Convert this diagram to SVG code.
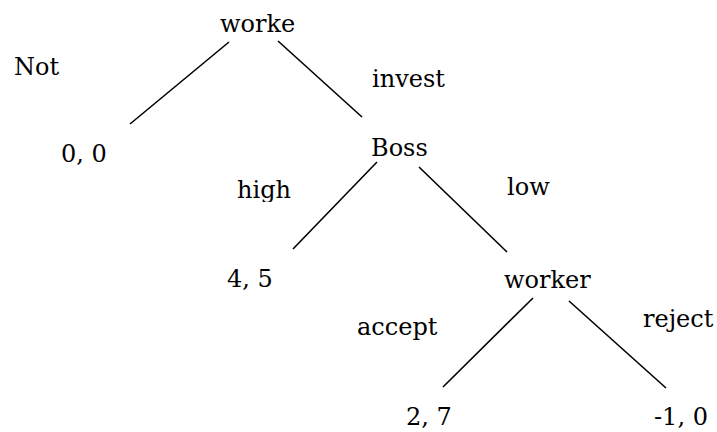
<svg xmlns="http://www.w3.org/2000/svg" width="717" height="432" viewBox="0 0 717 432">
<style>
.c line{stroke:#000;stroke-width:1.6}
.t{font-family:"DejaVu Serif",serif;font-size:24px;fill:#000}
</style>
<defs>
<clipPath id="cutHigh"><rect x="200" y="150" width="120" height="52"/></clipPath>
</defs>
<rect width="717" height="432" fill="#fff"/>
<g class="c" id="connectors">
<line x1="229" y1="42" x2="130" y2="124"/>
<line x1="278" y1="41" x2="362" y2="117"/>
<line x1="377" y1="162" x2="293" y2="249"/>
<line x1="419" y1="167" x2="507" y2="252"/>
<line x1="533" y1="298" x2="443" y2="387"/>
<line x1="569" y1="301" x2="666" y2="388"/>
</g>
<g class="t">
<g id="n-root"><text x="220" y="32">worke</text></g>
<g id="l-not"><text x="14" y="75">Not</text></g>
<g id="l-invest"><text x="372" y="87">invest</text></g>
<g id="n-00"><text x="61" y="162">0, 0</text></g>
<g id="n-boss"><text x="371" y="156">Boss</text></g>
<g id="l-high"><text x="237" y="198" clip-path="url(#cutHigh)">high</text></g>
<g id="l-low"><text x="507" y="195">low</text></g>
<g id="n-45"><text x="227" y="287">4, 5</text></g>
<g id="n-worker"><text x="504" y="288">worker</text></g>
<g id="l-accept"><text x="357" y="335">accept</text></g>
<g id="l-reject"><text x="643" y="327">reject</text></g>
<g id="n-27"><text x="406" y="425">2, 7</text></g>
<g id="n-m10"><text x="654" y="425">-1, 0</text></g>
</g>
</svg>
